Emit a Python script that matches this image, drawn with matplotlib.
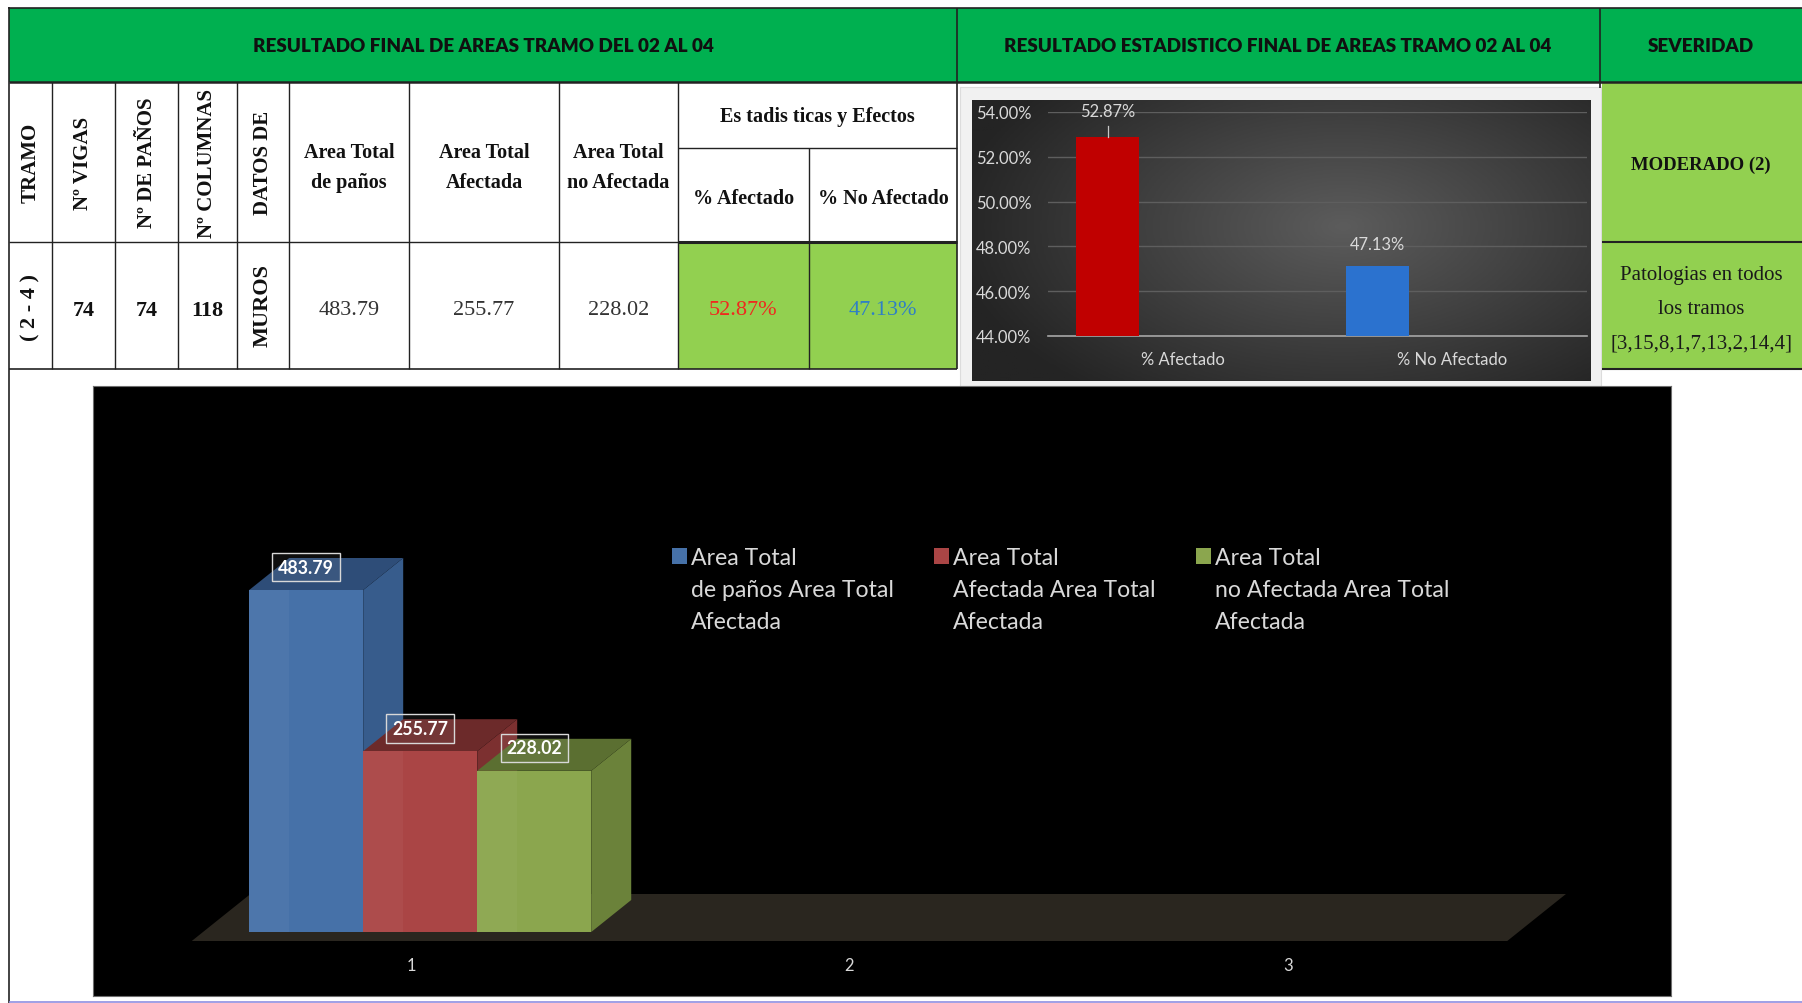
import matplotlib
matplotlib.use('Agg')
import matplotlib.pyplot as plt
from matplotlib import font_manager
from matplotlib.patches import Rectangle, Polygon
from matplotlib.colors import LinearSegmentedColormap
import numpy as np

W, H = 1802, 1004

# ---- datos del tramo 02 - 04 ----
titulo_tabla = "RESULTADO FINAL DE AREAS TRAMO DEL 02 AL 04"
titulo_grafico = "RESULTADO ESTADISTICO FINAL DE AREAS TRAMO 02 AL 04"
titulo_severidad = "SEVERIDAD"

cabeceras_vert = ["TRAMO", "Nº VIGAS", "Nº DE PAÑOS", "Nº COLUMNAS", "DATOS DE"]
tramo = "( 2 - 4 )"
n_vigas = 74
n_panos = 74
n_columnas = 118
elemento = "MUROS"

area_labels = ["Area Total\nde paños", "Area Total\nAfectada", "Area Total\nno Afectada"]
areas = [483.79, 255.77, 228.02]

titulo_pct = "Es tadis ticas y Efectos"
pct_labels = ["% Afectado", "% No Afectado"]
pct = [52.87, 47.13]

severidad = "MODERADO (2)"
patologias = [3, 15, 8, 1, 7, 13, 2, 14, 4]

# nombres de series tal como salen en la leyenda del grafico 3D
series_names = ["Area Total\nde paños Area Total\nAfectada",
                "Area Total\nAfectada Area Total\nAfectada",
                "Area Total\nno Afectada Area Total\nAfectada"]
categorias = ["1", "2", "3"]

# fuentes: estrecha tipo Calibri si existe, si no Lato un poco mas chica
available = {f.name for f in font_manager.fontManager.ttflist}
if 'Liberation Sans Narrow' in available:
    SANS, fs = 'Liberation Sans Narrow', 1.0
else:
    SANS, fs = 'Lato', 0.85
SERIF = 'Liberation Serif'
plt.rcParams['font.family'] = SANS

LINE = '#222222'
VERDE = '#00b050'
VERDE_CLARO = '#92d050'


def rect(x0, y0, x1, y1):
    return [x0 / W, 1 - y1 / H, (x1 - x0) / W, (y1 - y0) / H]


fig = plt.figure(figsize=(W / 100, H / 100), dpi=100, facecolor='white')

# ---------- grafico de porcentajes (arriba a la derecha) ----------
frame = fig.add_axes(rect(960, 88, 1601, 387))
frame.set_facecolor('#f1f1f1')
frame.set_xticks([])
frame.set_yticks([])
for s in frame.spines.values():
    s.set_color('#dcdcdc')

bg = fig.add_axes(rect(972, 101, 1591, 382))
yy, xx = np.mgrid[0:1:200j, 0:1:300j]
rr = np.sqrt(((xx - 0.6) / 0.8) ** 2 + ((yy - 0.45) / 0.95) ** 2)
bg.imshow(rr, cmap=LinearSegmentedColormap.from_list('fondo', ['#5c5c5c', '#242424']),
          vmin=0, vmax=0.8, extent=[0, 1, 0, 1], aspect='auto')
bg.axis('off')

ax2 = fig.add_axes(rect(1048, 113, 1587, 337))
ax2.patch.set_alpha(0)
x2 = np.arange(len(pct)) - 0.278
ax2.bar(x2, pct, width=0.234, color=['#c00000', '#2b72cf'], zorder=3)
ax2.set_xlim(-0.5, 1.5)
ax2.set_ylim(44, 54)
yt = np.arange(44, 55, 2)
ax2.set_yticks(yt)
ax2.set_yticklabels([f"{v:.2f}%" for v in yt])
ax2.set_xticks(np.arange(len(pct)))
ax2.set_xticklabels(pct_labels)
ax2.yaxis.grid(True, color='#5e5e5e', lw=1)
ax2.set_axisbelow(True)
ax2.tick_params(length=0, colors='#d9d9d9', labelsize=14 * fs)
ax2.tick_params(axis='y', pad=12)
ax2.tick_params(axis='x', pad=11)
for k in ['top', 'left', 'right']:
    ax2.spines[k].set_visible(False)
ax2.spines['bottom'].set_color('#a6a6a6')
ax2.spines['bottom'].set_linewidth(1.2)

label_lift = [1.16, 0.98]
for x, v, lift in zip(x2, pct, label_lift):
    ax2.text(x, v + lift, f"{v:.2f}%", ha='center', va='center', color='#d9d9d9',
             fontsize=14 * fs, clip_on=False, zorder=4)
    if lift > 1:
        ax2.plot([x, x], [v, v + 0.49], color='#c8c8c8', lw=0.9, zorder=4)

# ---------- grafico 3D de areas (abajo) ----------
ax3 = fig.add_axes(rect(93, 387, 1671, 997))
ax3.set_facecolor('black')
ax3.set_xlim(0.2748, 3.8734)
ax3.set_ylim(-90.5, 772.4)
ax3.set_xticks([])
ax3.set_yticks([])
for s in ax3.spines.values():
    s.set_color('#6e6e6e')
    s.set_linewidth(0.8)

DX, DY = 0.0912, 45.3          # profundidad oblicua de las barras
K = DX / DY
fy0, fy1 = -12.7, 53.8         # piso
ax3.add_patch(Polygon([(0.5, fy0), (3.5, fy0), (3.5 + K * (fy1 - fy0), fy1),
                       (0.5 + K * (fy1 - fy0), fy1)], closed=True, fc='#2a261f', ec='none'))

bw = 0.26
xs3 = 1.021 + (np.arange(len(areas)) - 1) * bw
caras = [('#4671a8', '#375c8c', '#2e4d78'),
         ('#aa4545', '#7c3030', '#6c2a2a'),
         ('#8ba64e', '#6b823a', '#5b6f31')]
for xc, v, (cf, cs, ct) in zip(xs3, areas, caras):
    x0, x1 = xc - bw / 2, xc + bw / 2
    ax3.add_patch(Polygon([(x1, 0), (x1 + DX, DY), (x1 + DX, v + DY), (x1, v)],
                          closed=True, fc=cs, ec='none'))
    ax3.add_patch(Polygon([(x0, v), (x1, v), (x1 + DX, v + DY), (x0 + DX, v + DY)],
                          closed=True, fc=ct, ec='none'))
    ax3.bar(xc, v, bw, color=cf, edgecolor='none')
    ax3.add_patch(Rectangle((x0, 0), bw * 0.35, v, fc='white', alpha=0.04, ec='none'))
    ax3.text(xc, v + 32.5, f"{v:.2f}", ha='center', va='center', color='white',
             fontsize=15 * fs, fontweight='bold',
             bbox=dict(boxstyle='square,pad=0.33', fc=(1, 1, 1, 0.06), ec='#d8d8d8', lw=1))

for i, c in enumerate(categorias):
    ax3.text(i + 1, -46.7, c, ha='center', va='center', color='#d9d9d9', fontsize=14 * fs)

# ---------- tabla y titulos (coordenadas en pixeles) ----------
pg = fig.add_axes([0, 0, 1, 1])
pg.set_xlim(0, W)
pg.set_ylim(H, 0)
pg.axis('off')
pg.set_zorder(10)

# leyenda del grafico 3D
for i, (name, (cf, _, _)) in enumerate(zip(series_names, caras)):
    sx = 672 + 262 * i
    pg.add_patch(Rectangle((sx, 549), 15, 16, fc=cf, ec='none'))
    for j, line in enumerate(name.split("\n")):
        pg.text(sx + 19, 565 + 32 * j, line, ha='left', va='baseline',
                color='#d9d9d9', fontsize=19.5 * fs)

# rellenos
pg.add_patch(Rectangle((9, 9), W - 9, 74, fc=VERDE, ec='none'))
pg.add_patch(Rectangle((678, 243), 279, 127, fc=VERDE_CLARO, ec='none'))
pg.add_patch(Rectangle((1602, 83), 200, 287, fc=VERDE_CLARO, ec='none'))


def hline(y, x0, x1, lw=1.0, color=LINE):
    pg.plot([x0, x1], [y, y], color=color, lw=lw, solid_capstyle='butt')


def vline(x, y0, y1, lw=1.0, color=LINE):
    pg.plot([x, x], [y0, y1], color=color, lw=lw, solid_capstyle='butt')


hline(8.5, 8, W, lw=1.2)
hline(83, 9, W, lw=1.8)
hline(149, 678, 957)
hline(243, 9, 678)
hline(243, 678, 957, lw=2.2)
hline(370, 9, 957, lw=1.2)
hline(243, 1602, W, lw=1.5)
hline(370, 1602, W, lw=1.5)
for x in [52, 115, 178, 237, 289, 409, 559, 678]:
    vline(x, 83, 370)
vline(809, 149, 370)
vline(957, 9, 370, lw=1.2)
vline(9, 8, H, lw=1.2)
vline(1600, 9, 89, lw=1.2)
hline(1003, 9, W, lw=1.2, color='#8f8fe0')

# titulos verdes
hdr = dict(ha='center', va='center', fontsize=16 * fs, fontweight='heavy', color='#101010')
pg.text(483, 46, titulo_tabla, **hdr)
pg.text(1278, 46, titulo_grafico, **hdr)
pg.text(1701, 46, titulo_severidad, **hdr)

# cabeceras verticales
for xc, txt in zip([30.5, 83.5, 146.5, 207.5, 263], cabeceras_vert):
    pg.text(xc, 163, txt, rotation=90, ha='center', va='center', family=SERIF,
            fontweight='bold', fontsize=15, color='#111111')

# cabeceras de areas (dos lineas)
for xc, txt in zip([349, 484, 618.5], area_labels):
    for j, line in enumerate(txt.split("\n")):
        pg.text(xc, 153 + 30 * j, line, ha='center', va='center', family=SERIF,
                fontweight='bold', fontsize=14.5, color='#111111')

pg.text(817.5, 117, titulo_pct, ha='center', va='center', family=SERIF,
        fontweight='bold', fontsize=14.5, color='#111111')
for xc, txt in zip([743.5, 883], pct_labels):
    pg.text(xc, 199.5, txt, ha='center', va='center', family=SERIF,
            fontweight='bold', fontsize=14.5, color='#111111')

# fila de datos
pg.text(30.5, 308, tramo, rotation=90, ha='center', va='center', family=SERIF,
        fontweight='bold', fontsize=16, color='#111111')
for xc, n in zip([83.5, 146.5, 207.5], [n_vigas, n_panos, n_columnas]):
    pg.text(xc, 311, str(n), ha='center', va='center', family=SERIF,
            fontweight='bold', fontsize=16, color='#111111')
pg.text(263, 306, elemento, rotation=90, ha='center', va='center', family=SERIF,
        fontweight='bold', fontsize=16, color='#111111')
for xc, v in zip([349, 484, 618.5], areas):
    pg.text(xc, 311, f"{v:.2f}", ha='center', va='center', family=SERIF,
            fontsize=16, color='#333333')
for xc, v, c in zip([743.5, 883], pct, ['#f0281e', '#2f7fc6']):
    pg.text(xc, 311, f"{v:.2f}%", ha='center', va='center', family=SERIF,
            fontsize=16, color=c)

# severidad
pg.text(1701, 165, severidad, ha='center', va='center', family=SERIF,
        fontweight='bold', fontsize=13.5, color='#111111')
pat_lines = ["Patologias en todos", "los tramos",
             "[" + ",".join(str(p) for p in patologias) + "]"]
for j, line in enumerate(pat_lines):
    pg.text(1701, 276 + 34 * j, line, ha='center', va='center', family=SERIF,
            fontsize=15, color='#1a1a1a')

fig.savefig('out.png', dpi=100, facecolor='white')
